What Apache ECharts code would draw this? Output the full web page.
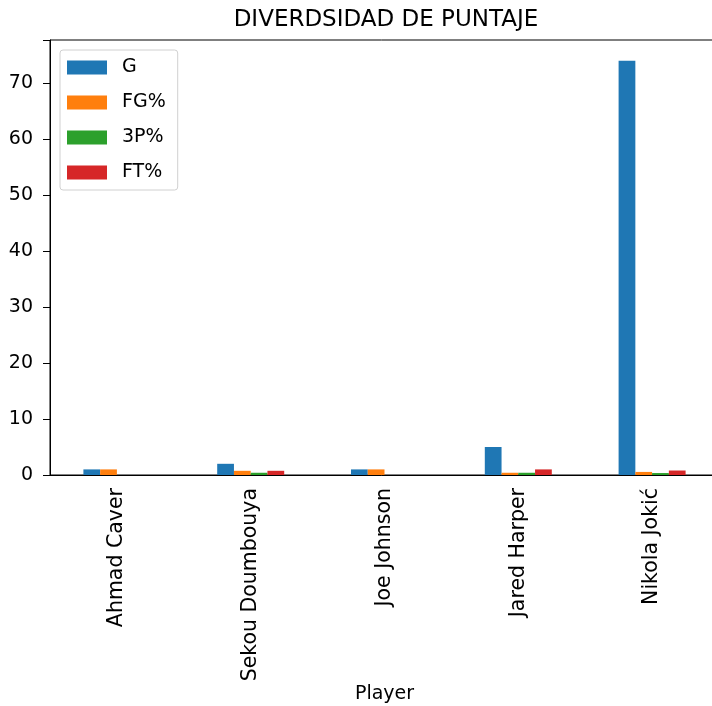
<!DOCTYPE html>
<html>
<head>
<meta charset="utf-8">
<script src="https://cdn.jsdelivr.net/npm/echarts@6/dist/echarts.min.js"></script>
<style>html,body{margin:0;padding:0;background:#fff;overflow:hidden}#c{width:712px;height:706px}</style>
</head>
<body>
<div id="c"></div>
<script>
const players = ["Ahmad Caver", "Sekou Doumbouya", "Joe Johnson", "Jared Harper", "Nikola Jokić"];
const seriesNames = ["G", "FG%", "3P%", "FT%"];
const G = [1, 2, 1, 5, 74];
const FG = [1.0, 0.75, 1.0, 0.4, 0.55];
const P3 = [null, 0.4, null, 0.4, 0.35];
const FT = [null, 0.75, null, 1.0, 0.8];
const yTicks = [0, 10, 20, 30, 40, 50, 60, 70];
const colors = ["#1f77b4", "#ff7f0e", "#2ca02c", "#d62728"];
const values = [G, FG, P3, FT];
const FONT = "DejaVu Sans";

const chart = echarts.init(document.getElementById('c'), null, {renderer: 'canvas'});
chart.setOption({
  animation: false,
  title: {
    text: "DIVERDSIDAD DE PUNTAJE",
    left: 381, top: 4, textAlign: 'center',
    textStyle: {fontFamily: FONT, fontSize: 23, fontWeight: 'normal', color: '#000'}
  },
  legend: {
    orient: 'vertical', left: 60, top: 50,
    itemWidth: 40, itemHeight: 14, itemGap: 16,
    padding: [8, 12, 8, 7],
    borderColor: '#d0d0d0', borderWidth: 1, borderRadius: 3, backgroundColor: '#fff',
    icon: 'rect',
    textStyle: {fontFamily: FONT, fontSize: 19, color: '#000', padding: [0, 0, 0, 10]},
    data: seriesNames
  },
  grid: {left: 50, top: 40, width: 669, height: 435, show: true, borderColor: '#000', borderWidth: 1,
    containLabel: false, outerBoundsMode: 'none'},
  xAxis: {
    type: 'category', data: players,
    name: 'Player', nameLocation: 'middle', nameGap: 210, nameMoveOverlap: false,
    nameTextStyle: {fontFamily: FONT, fontSize: 19, color: '#000'},
    axisLine: {lineStyle: {color: '#000'}},
    axisTick: {alignWithLabel: true, length: 7, lineStyle: {color: '#000'}},
    axisLabel: {rotate: 90, margin: 13, fontFamily: FONT, fontSize: 20.5, color: '#000'}
  },
  yAxis: {
    type: 'value', min: 0, max: 77.7, interval: 10,
    splitLine: {show: false},
    axisLine: {show: true, lineStyle: {color: '#000'}},
    axisTick: {show: true, length: 7, lineStyle: {color: '#000'}},
    axisLabel: {margin: 17, fontFamily: FONT, fontSize: 19, color: '#000',
      formatter: v => (yTicks.indexOf(v) >= 0 ? String(v) : '')}
  },
  series: seriesNames.map((n, i) => ({
    name: n, type: 'bar', data: values[i],
    barWidth: 16.75, barGap: '0%',
    itemStyle: {color: colors[i]}
  }))
});
</script>
</body>
</html>
